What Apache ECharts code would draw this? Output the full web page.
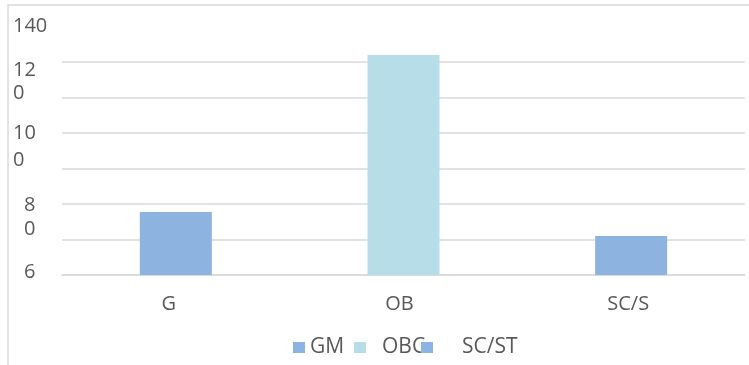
<!DOCTYPE html>
<html>
<head>
<meta charset="utf-8">
<script src="https://cdn.jsdelivr.net/npm/echarts@6/dist/echarts.min.js"></script>
<style>
  html, body { margin: 0; padding: 0; background: #fff; }
  #chart { width: 749px; height: 365px; }
</style>
</head>
<body>
<div id="chart"></div>
<script>
// categories as printed under the bars (cut off in the source)
var categories = ['G', 'OB', 'SC/S'];
var seriesNames = ['GM', 'OBC', 'SC/ST'];
var seriesValues = [35.5, 124, 22];
var seriesColors = ['#8db3e0', '#b7dde8', '#8db3e0'];
// y tick labels as they appear (broken up) in the picture
var tickValues = [0, 20, 40, 60, 80, 100, 120, 140];
var tickLabels = ['6', '0', '8', '0', '10', '0', '12', '140'];

var chart = echarts.init(document.getElementById('chart'));

// little nudges so the broken labels sit where they do in the source
var yShift = [-3, -10, 1, -8, 0, -4, 8, 0];   // + = down
var xIndent = [11, 11, 11, 0, 0, 0, 0, 0];
var yRich = {};
tickValues.forEach(function (v, i) {
  var s = yShift[i];
  yRich['t' + i] = {
    fontSize: 20,
    color: '#595959',
    padding: [s > 0 ? 2 * s : 0, 0, s < 0 ? -2 * s : 0, xIndent[i]]
  };
});
var xShift = [14, 8, 6];  // right padding moves centred text left
var xRich = {};
categories.forEach(function (c, i) {
  xRich['c' + i] = { fontSize: 20, color: '#595959', padding: [0, xShift[i], 0, 0] };
});

var series = seriesNames.map(function (name, i) {
  var data = categories.map(function (c, j) { return j === i ? seriesValues[i] : '-'; });
  return {
    name: name,
    type: 'bar',
    data: data,
    barWidth: 72,
    barGap: '-100%',
    itemStyle: { color: seriesColors[i] }
  };
});

function oneLegend(name, left, padLeft) {
  return {
    left: left,
    top: 337,
    padding: 0,
    itemWidth: 12,
    itemHeight: 11,
    icon: 'rect',
    textStyle: { fontSize: 21, color: '#595959', fontFamily: 'Open Sans', padding: [9, 0, 0, padLeft] },
    data: [name]
  };
}

var option = {
  animation: false,
  textStyle: { fontFamily: 'Open Sans', color: '#595959' },
  grid: { left: 62, right: 4, top: 26.5, bottom: 90 },
  legend: [
    oneLegend('GM', 293, 0),
    oneLegend('OBC', 354, 11),
    oneLegend('SC/ST', 421, 24)
  ],
  xAxis: {
    type: 'category',
    data: categories,
    axisLine: { lineStyle: { color: '#d9d9d9', width: 1.5 } },
    axisTick: { show: false },
    axisLabel: {
      fontSize: 20,
      color: '#595959',
      margin: 19,
      formatter: function (v, i) { return '{c' + i + '|' + v + '}'; },
      rich: xRich
    }
  },
  yAxis: {
    type: 'value',
    min: 0,
    max: 140,
    interval: 20,
    axisLine: { show: false },
    axisTick: { show: false },
    splitLine: { showMaxLine: false, lineStyle: { color: '#d9d9d9', width: 1.5 } },
    axisLabel: {
      align: 'left',
      margin: 49,
      fontSize: 20,
      color: '#595959',
      formatter: function (v) {
        var i = tickValues.indexOf(v);
        return i >= 0 ? '{t' + i + '|' + tickLabels[i] + '}' : '';
      },
      rich: yRich
    }
  },
  graphic: [{
    type: 'rect',
    shape: { x: 8, y: 5, width: 760, height: 380 },
    style: { fill: null, stroke: '#d9d9d9', lineWidth: 1.5 },
    silent: true
  }],
  series: series
};

chart.setOption(option);
</script>
</body>
</html>
